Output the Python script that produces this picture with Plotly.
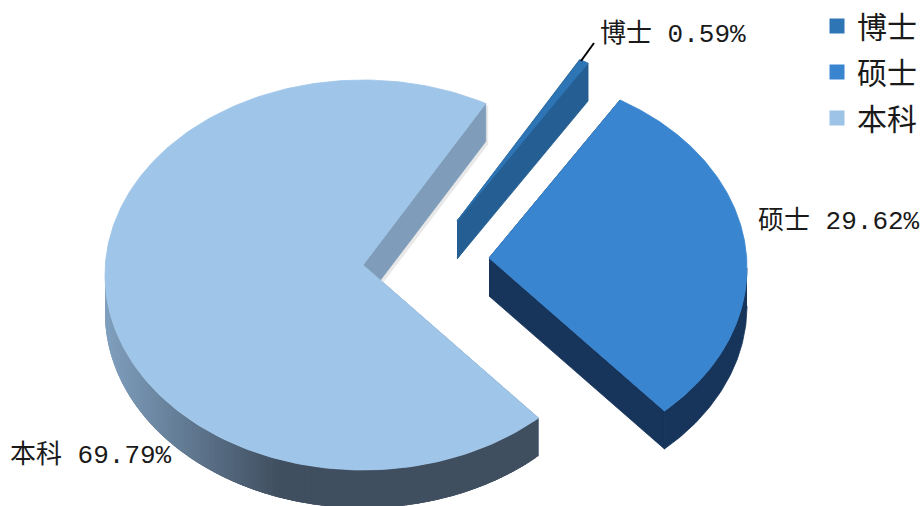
import numpy as np
import plotly.graph_objects as go

categories = ["博士", "硕士", "本科"]
values = [0.59, 29.62, 69.79]
top_colors = ["#2E75B6", "#3A85D0", "#9FC5E9"]
wall_colors = ["#255E92", "#17355A", "#7F9DBA"]
legend_colors = ["#2E75B6", "#3A85D0", "#9DC3E6"]

# layout of the tilted pie, in pixels
START = 28.4
RX, RY, DEPTH = 258.0, 195.0, 38.0
APEX = {"博士": (457, 221), "硕士": (489, 258), "本科": (363, 265)}
CY_OFFSET = 10
FONT = "Liberation Mono, Noto Sans CJK SC, sans-serif"
W, H = 921, 506

fig = go.Figure()


def add_poly(xs, ys, color, width=0.8):
    fig.add_trace(go.Scatter(
        x=list(xs), y=list(ys), mode="lines", fill="toself", fillcolor=color,
        line=dict(color=color, width=width),
        hoverinfo="skip", showlegend=False,
    ))


def arc(ax, ay, t0, t1, n=2):
    t = np.radians(np.linspace(t0, t1, n))
    return ax + RX * np.sin(t), ay + CY_OFFSET - RY * np.cos(t)


def mix(c0, c1, f):
    a = [int(c0[i:i + 2], 16) for i in (1, 3, 5)]
    b = [int(c1[i:i + 2], 16) for i in (1, 3, 5)]
    return "rgb(%d,%d,%d)" % tuple(round(p + (q - p) * f) for p, q in zip(a, b))


# cumulative angles from the values
cum = np.cumsum([0] + values) / 100 * 360 + START
spans = {c: (cum[i], cum[i + 1]) for i, c in enumerate(categories)}

for name in ["本科", "博士", "硕士"]:
    i = categories.index(name)
    t0, t1 = spans[name]
    ax, ay = APEX[name]
    # soft shadow and cut walls
    for t in (t0, t1):
        ex, ey = arc(ax, ay, t, t, 1)
        ex, ey = float(ex[0]), float(ey[0])
        if name == "本科" and t == t1:
            add_poly([ax + 2, ex + 2, ex + 2, ax + 2],
                     [ay + 2, ey + 2, ey + DEPTH + 3, ay + DEPTH + 3],
                     "#E8E8E8")
        add_poly([ax, ex, ex, ax], [ay, ey, ey + DEPTH, ay + DEPTH], wall_colors[i])
    # outer rim, front half only
    lo, hi = max(t0, 90), min(t1, 270)
    if hi > lo:
        if name == "本科":
            # painted from the right end to the left; each band overlaps the next
            edges = np.linspace(lo, hi, 160)
            for a, b in zip(edges[:-1], edges[1:]):
                xs, ys = arc(ax, ay, a, min(b + 1.5, hi), 6)
                f = np.clip((xs[0] - 105) / 175, 0, 1)
                add_poly(np.r_[xs, xs[::-1]], np.r_[ys, ys[::-1] + DEPTH],
                         mix("#80A0BF", "#404F60", f), width=0)
        else:
            xs, ys = arc(ax, ay, lo, hi, 80)
            add_poly(np.r_[xs, xs[::-1]], np.r_[ys, ys[::-1] + DEPTH], wall_colors[i])
    # top face
    xs, ys = arc(ax, ay, t0, t1, 240)
    add_poly(np.r_[ax, xs, ax], np.r_[ay, ys, ay], top_colors[i])

# leader line of the smallest slice
fig.add_trace(go.Scatter(x=[581, 594], y=[61, 43], mode="lines",
                         line=dict(color="#000000", width=2),
                         hoverinfo="skip", showlegend=False))

# legend entries
for c, col in zip(categories, legend_colors):
    fig.add_trace(go.Scatter(x=[None], y=[None], mode="markers", name=c,
                             legendgroup=c,
                             marker=dict(symbol="square", size=15, color=col)))

label_pos = {"博士": (597.5, 34), "硕士": (755.5, 221), "本科": (7.5, 455)}
for c, v in zip(categories, values):
    lx, ly = label_pos[c]
    fig.add_annotation(x=lx, y=ly, xref="x", yref="y", xanchor="left", yanchor="middle",
                       text=f"{c} {v:.2f}%", showarrow=False,
                       font=dict(family=FONT, size=26, color="#1A1A1A"))

fig.update_layout(
    width=W, height=H, margin=dict(l=0, r=0, t=0, b=0, autoexpand=False),
    paper_bgcolor="white", plot_bgcolor="white",
    xaxis=dict(range=[0, W], visible=False, fixedrange=True),
    yaxis=dict(range=[H, 0], visible=False, fixedrange=True),
    legend=dict(x=817 / W, y=1.0, xanchor="left", yanchor="top",
                font=dict(family=FONT, size=30, color="#1A1A1A"),
                tracegroupgap=4, bgcolor="rgba(0,0,0,0)", itemclick=False,
                itemdoubleclick=False),
    showlegend=True,
)
fig.write_html("out.html", config={"displayModeBar": False},
               post_script="document.body.style.margin='0';")
